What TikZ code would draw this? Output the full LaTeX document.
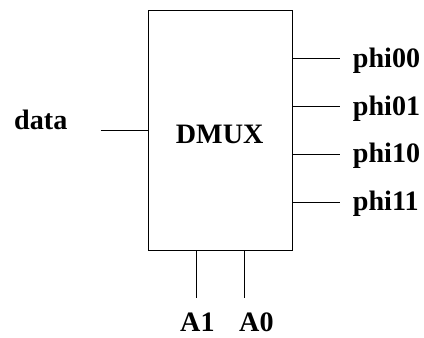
\documentclass[tikz,border=0pt]{standalone}
\usepackage{fontspec}
\setmainfont{Liberation Serif}

\begin{document}
\begin{tikzpicture}[
    x=0.03cm, y=-0.03cm,
    block/.style={rectangle, draw, line width=0.8pt, minimum width=4.33cm, minimum height=7.18cm, inner sep=0pt},
    wire/.style={draw, line width=0.8pt},
    pin/.style={font=\bfseries\fontsize{24}{28}\selectfont, inner sep=0pt, anchor=base west}
]
  \useasboundingbox (0,0) rectangle (424,337);
  % The demultiplexer block and its name.
  \node[block] (dmux) at (220.5,130.3) {};
  \node[pin] (name) at (175.7,143.3) {DMUX};
  % Data input on the left.
  \coordinate (din) at (100.7,130.7);
  \draw[wire] (din) -- (dmux.west |- din);
  \node[pin] (data) at (14,129.3) {data};
  % Four outputs on the right.
  \foreach \lbl/\y in {00/58.7, 01/106.7, 10/154.3, 11/202.3} {
    \coordinate (o\lbl) at (340,\y);
    \draw[wire] (dmux.east |- o\lbl) -- (o\lbl);
    \node[pin] (phi\lbl) at (352.7,\y+8.5) {phi\lbl};
  }
  % Select lines below.
  \foreach \sel/\x/\tx in {1/196.7/180, 0/244.3/239} {
    \coordinate (s\sel) at (\x,298.3);
    \draw[wire] (dmux.south -| s\sel) -- (s\sel);
    \node[pin] (a\sel) at (\tx,331.5) {A\sel};
  }
\end{tikzpicture}
\end{document}
